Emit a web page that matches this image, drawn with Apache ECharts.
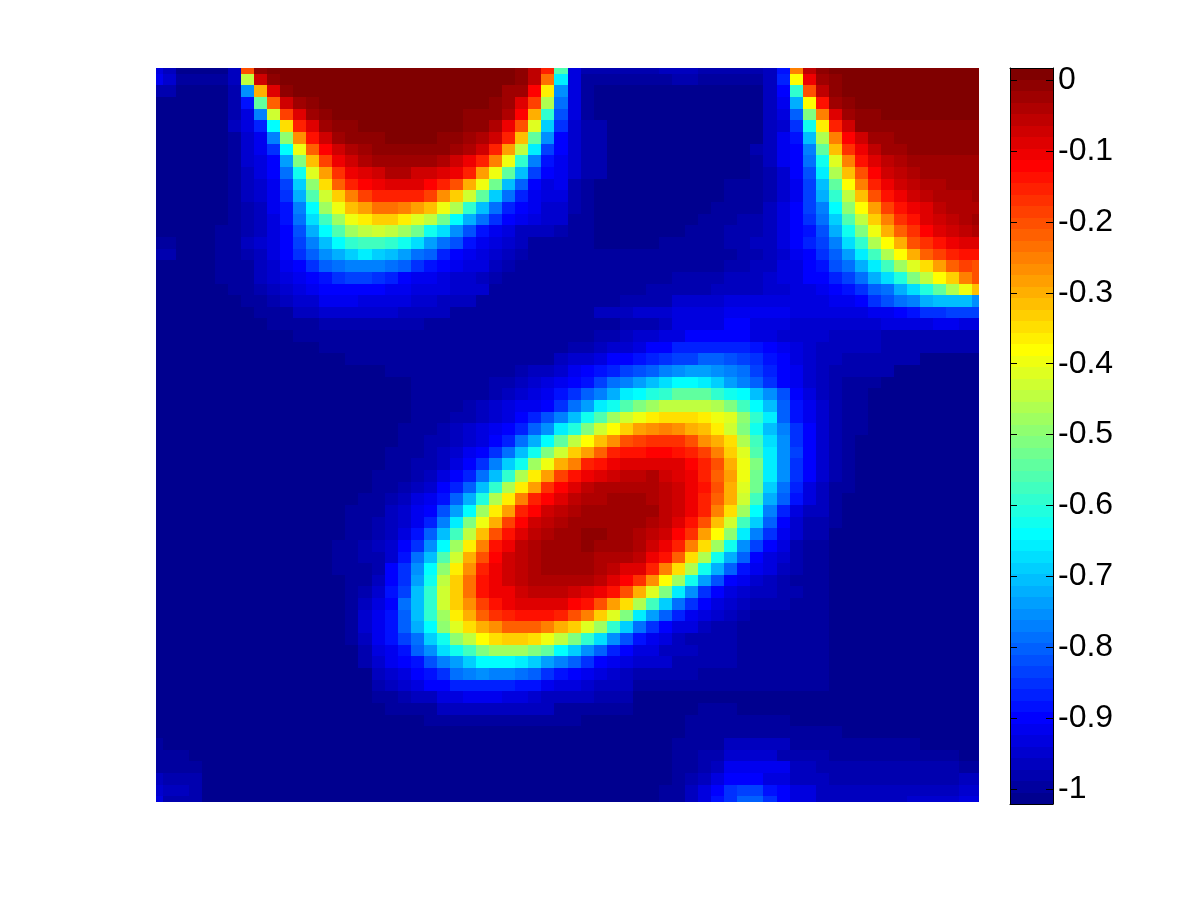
<!DOCTYPE html>
<html>
<head>
<meta charset="utf-8">
<title>heatmap</title>
<script src="https://cdn.jsdelivr.net/npm/echarts@6/dist/echarts.min.js"></script>
<style>
html, body { margin: 0; padding: 0; background: #fff; }
#main { width: 1200px; height: 900px; }
</style>
</head>
<body>
<div id="main"></div>
<script>
// cell values x100, one line per row
var rows = [
[-93,-96,-101,-101,-101,-101,-96,-20,-1,1,1,1,1,1,1,1,1,1,1,1,1,1,1,1,1,1,1,1,-1,-6,-15,-56,-93,-98,-98,-98,-98,-98,-98,-96,-96,-96,-98,-98,-98,-98,-98,-96,-88,-25,-6,-1,1,1,1,1,1,1,1,1,1,1,1,1],
[-92,-95,-100,-100,-100,-100,-96,-45,-7,-1,1,1,1,1,1,1,1,1,1,1,1,1,1,1,1,1,1,1,-1,-6,-23,-66,-93,-100,-100,-100,-100,-100,-100,-100,-98,-98,-100,-100,-100,-100,-100,-96,-87,-38,-11,-3,-1,1,1,1,1,1,1,1,1,1,1,1],
[-98,-98,-101,-101,-101,-101,-98,-75,-30,-9,-1,1,1,1,1,1,1,1,1,1,1,1,1,1,1,1,1,-3,-3,-12,-36,-75,-93,-100,-101,-101,-101,-101,-101,-101,-101,-101,-101,-101,-101,-101,-101,-96,-90,-59,-20,-6,-1,1,1,1,1,1,1,1,1,1,1,1],
[-101,-101,-101,-101,-101,-101,-98,-88,-54,-22,-7,-3,-1,1,1,1,1,1,1,1,1,1,1,1,1,1,-1,-3,-9,-19,-46,-79,-93,-100,-101,-101,-101,-101,-101,-101,-101,-101,-101,-101,-101,-101,-101,-96,-92,-72,-38,-14,-3,-1,1,1,1,1,1,1,1,1,1,1],
[-101,-101,-101,-101,-101,-101,-98,-93,-77,-43,-19,-9,-3,-1,1,1,1,1,1,1,1,1,1,1,-1,-1,-1,-4,-12,-30,-59,-82,-93,-100,-101,-101,-101,-101,-101,-101,-101,-101,-101,-101,-101,-101,-101,-96,-93,-80,-51,-25,-9,-3,-1,-1,1,1,1,1,1,1,1,1],
[-101,-101,-101,-101,-101,-101,-96,-93,-87,-64,-35,-15,-9,-3,-1,-1,1,1,1,1,1,1,1,1,-1,-1,-4,-11,-20,-41,-69,-85,-95,-98,-98,-101,-101,-101,-101,-101,-101,-101,-101,-101,-101,-101,-101,-96,-95,-85,-62,-36,-15,-7,-1,-1,-1,-1,-1,-1,-1,-1,-1,-1],
[-101,-101,-101,-101,-101,-101,-100,-95,-92,-77,-49,-27,-14,-7,-3,-1,-1,-1,1,1,1,1,-1,-1,-3,-4,-7,-15,-32,-54,-75,-90,-95,-98,-98,-101,-101,-101,-101,-101,-101,-101,-101,-101,-101,-101,-101,-96,-92,-88,-71,-46,-25,-12,-7,-3,-3,-1,-1,-1,-1,-1,-1,-1],
[-101,-101,-101,-101,-101,-101,-100,-95,-92,-85,-64,-40,-22,-12,-7,-4,-3,-1,-1,-1,-1,-1,-1,-3,-4,-7,-15,-28,-45,-66,-83,-90,-95,-98,-98,-101,-101,-101,-101,-101,-101,-101,-101,-101,-101,-101,-98,-96,-92,-90,-77,-54,-32,-17,-11,-6,-3,-3,-1,-1,-1,-1,-1,-1],
[-101,-101,-101,-101,-101,-101,-100,-95,-93,-90,-74,-51,-32,-19,-11,-7,-4,-3,-3,-3,-3,-3,-4,-7,-11,-15,-25,-40,-59,-77,-88,-92,-95,-98,-98,-101,-101,-101,-101,-101,-101,-101,-101,-101,-101,-101,-100,-96,-92,-90,-79,-62,-41,-25,-14,-9,-6,-4,-3,-3,-3,-3,-3,-3],
[-101,-101,-101,-101,-101,-101,-100,-96,-93,-90,-79,-62,-41,-28,-17,-11,-9,-7,-4,-4,-7,-7,-9,-11,-15,-28,-40,-54,-71,-83,-90,-92,-95,-98,-98,-101,-101,-101,-101,-101,-101,-101,-101,-101,-101,-101,-100,-98,-95,-90,-82,-66,-46,-32,-20,-12,-7,-6,-4,-3,-3,-3,-3,-3],
[-101,-101,-101,-101,-101,-101,-100,-96,-95,-92,-83,-69,-49,-35,-22,-15,-12,-11,-9,-9,-9,-12,-15,-20,-30,-40,-53,-71,-80,-90,-93,-92,-98,-100,-101,-101,-101,-101,-101,-101,-101,-101,-101,-101,-100,-100,-100,-98,-95,-92,-83,-71,-54,-38,-25,-15,-11,-7,-6,-4,-4,-3,-3,-3],
[-101,-101,-101,-101,-101,-101,-100,-96,-95,-92,-85,-72,-56,-43,-33,-25,-19,-15,-15,-15,-15,-19,-27,-33,-43,-54,-69,-79,-87,-92,-93,-93,-98,-100,-101,-101,-101,-101,-101,-101,-101,-101,-101,-101,-100,-100,-100,-98,-95,-92,-83,-72,-59,-45,-32,-20,-14,-11,-7,-6,-4,-4,-4,-3],
[-101,-101,-101,-101,-101,-101,-100,-98,-96,-92,-88,-77,-64,-48,-40,-32,-28,-23,-23,-25,-28,-32,-40,-46,-59,-71,-79,-87,-90,-92,-95,-95,-98,-100,-101,-101,-101,-101,-101,-101,-101,-101,-101,-100,-100,-100,-100,-96,-93,-90,-83,-77,-64,-49,-38,-28,-19,-14,-11,-9,-6,-4,-4,-4],
[-101,-101,-101,-101,-101,-101,-100,-98,-96,-93,-88,-79,-67,-58,-48,-40,-36,-33,-33,-36,-41,-45,-53,-64,-72,-79,-85,-90,-92,-93,-95,-95,-100,-100,-101,-101,-101,-101,-101,-101,-101,-101,-100,-100,-100,-98,-98,-96,-93,-90,-85,-79,-69,-56,-45,-33,-25,-17,-14,-9,-7,-6,-4,-3],
[-101,-101,-101,-101,-101,-100,-100,-98,-96,-93,-90,-82,-72,-64,-56,-48,-45,-43,-45,-48,-53,-62,-67,-75,-82,-88,-92,-93,-96,-96,-96,-98,-100,-100,-101,-101,-101,-101,-101,-101,-101,-100,-100,-100,-98,-98,-98,-96,-93,-90,-88,-82,-72,-62,-51,-40,-30,-22,-17,-12,-9,-7,-6,-4],
[-100,-100,-101,-101,-101,-100,-100,-96,-95,-93,-90,-83,-77,-71,-64,-59,-58,-58,-59,-62,-67,-74,-79,-82,-88,-92,-93,-95,-96,-100,-100,-100,-100,-100,-101,-101,-101,-101,-101,-100,-100,-100,-100,-100,-98,-98,-96,-96,-93,-90,-87,-83,-77,-67,-59,-46,-38,-30,-20,-17,-14,-11,-9,-9],
[-98,-98,-101,-101,-101,-100,-100,-98,-96,-93,-90,-85,-80,-75,-72,-69,-66,-69,-71,-74,-79,-80,-87,-90,-92,-93,-95,-96,-98,-100,-100,-100,-100,-100,-100,-100,-100,-100,-100,-100,-100,-100,-100,-100,-100,-98,-98,-96,-95,-92,-90,-85,-80,-74,-66,-58,-46,-38,-30,-22,-19,-15,-14,-14],
[-101,-101,-101,-101,-101,-100,-100,-100,-96,-95,-92,-90,-85,-80,-79,-77,-77,-77,-79,-80,-85,-88,-90,-92,-93,-93,-96,-98,-100,-100,-100,-100,-100,-100,-100,-100,-100,-100,-100,-100,-100,-100,-100,-100,-98,-98,-96,-96,-93,-93,-90,-88,-82,-79,-72,-66,-58,-48,-41,-35,-28,-22,-19,-20],
[-101,-101,-101,-101,-101,-100,-100,-100,-96,-95,-93,-92,-90,-88,-85,-83,-83,-85,-87,-90,-92,-92,-93,-95,-95,-96,-98,-100,-100,-100,-100,-100,-100,-100,-100,-100,-100,-100,-100,-100,-98,-98,-98,-98,-96,-96,-96,-95,-93,-93,-90,-90,-87,-83,-79,-72,-67,-61,-51,-45,-38,-33,-25,-20],
[-101,-101,-101,-101,-101,-101,-100,-100,-98,-96,-95,-93,-92,-90,-90,-90,-90,-90,-92,-92,-93,-93,-93,-95,-95,-95,-100,-100,-100,-100,-100,-100,-100,-100,-100,-100,-100,-100,-98,-98,-98,-98,-98,-96,-96,-96,-96,-95,-95,-93,-93,-92,-90,-88,-85,-80,-79,-72,-67,-61,-54,-46,-40,-32],
[-101,-101,-101,-101,-101,-101,-101,-100,-100,-98,-96,-95,-95,-92,-92,-92,-93,-93,-93,-93,-95,-95,-96,-96,-96,-100,-100,-100,-100,-100,-100,-100,-100,-100,-100,-100,-98,-98,-98,-98,-95,-95,-95,-95,-93,-93,-93,-93,-93,-93,-93,-93,-92,-92,-90,-85,-82,-79,-77,-72,-71,-71,-71,-75],
[-101,-101,-101,-101,-101,-101,-101,-101,-100,-100,-100,-96,-96,-95,-95,-95,-95,-95,-95,-96,-96,-96,-96,-100,-100,-100,-100,-100,-100,-100,-100,-100,-100,-100,-96,-96,-96,-95,-95,-95,-93,-93,-93,-93,-92,-92,-92,-92,-92,-93,-93,-93,-93,-93,-93,-92,-92,-90,-88,-85,-85,-83,-83,-83],
[-101,-101,-101,-101,-101,-101,-101,-101,-101,-100,-100,-100,-100,-98,-98,-98,-98,-98,-98,-98,-98,-100,-100,-100,-100,-100,-100,-100,-100,-100,-100,-100,-100,-100,-100,-100,-98,-98,-98,-96,-93,-93,-93,-93,-90,-90,-93,-93,-93,-95,-95,-95,-95,-95,-95,-95,-93,-93,-93,-93,-92,-92,-93,-93],
[-101,-101,-101,-101,-101,-101,-101,-101,-101,-101,-101,-100,-100,-100,-100,-100,-100,-100,-100,-100,-100,-100,-100,-100,-100,-100,-100,-100,-100,-100,-100,-100,-100,-100,-98,-98,-96,-95,-95,-93,-93,-90,-90,-90,-90,-90,-93,-93,-95,-95,-95,-95,-96,-96,-96,-96,-98,-98,-98,-98,-98,-98,-98,-98],
[-101,-101,-101,-101,-101,-101,-101,-101,-101,-101,-101,-101,-101,-100,-100,-100,-100,-100,-100,-100,-100,-100,-100,-100,-100,-100,-100,-100,-100,-100,-100,-100,-98,-98,-96,-95,-95,-93,-90,-90,-87,-87,-87,-87,-87,-87,-88,-90,-92,-93,-95,-96,-96,-96,-96,-96,-98,-98,-98,-98,-98,-98,-98,-98],
[-101,-101,-101,-101,-101,-101,-101,-101,-101,-101,-101,-101,-101,-101,-101,-100,-100,-100,-100,-100,-100,-100,-100,-100,-100,-100,-100,-100,-100,-100,-100,-96,-95,-95,-93,-90,-90,-88,-87,-85,-83,-83,-80,-80,-82,-83,-85,-88,-90,-93,-95,-96,-96,-98,-98,-98,-98,-98,-98,-101,-101,-101,-101,-101],
[-101,-101,-101,-101,-101,-101,-101,-101,-101,-101,-101,-101,-101,-101,-101,-101,-101,-101,-100,-100,-100,-100,-100,-100,-100,-100,-100,-100,-98,-96,-96,-95,-92,-90,-88,-87,-83,-82,-80,-77,-75,-74,-74,-75,-77,-79,-83,-87,-90,-92,-95,-96,-98,-98,-98,-98,-98,-101,-101,-101,-101,-101,-101,-101],
[-101,-101,-101,-101,-101,-101,-101,-101,-101,-101,-101,-101,-101,-101,-101,-101,-101,-101,-101,-101,-100,-100,-100,-100,-100,-100,-98,-98,-96,-95,-93,-92,-90,-88,-83,-79,-77,-74,-71,-67,-64,-64,-66,-69,-74,-77,-80,-85,-90,-92,-95,-96,-98,-100,-100,-100,-101,-101,-101,-101,-101,-101,-101,-101],
[-101,-101,-101,-101,-101,-101,-101,-101,-101,-101,-101,-101,-101,-101,-101,-101,-101,-101,-101,-101,-100,-100,-100,-100,-100,-100,-98,-96,-95,-93,-92,-88,-85,-80,-77,-72,-66,-64,-61,-59,-54,-54,-54,-59,-62,-64,-71,-75,-82,-90,-93,-96,-98,-100,-100,-101,-101,-101,-101,-101,-101,-101,-101,-101],
[-101,-101,-101,-101,-101,-101,-101,-101,-101,-101,-101,-101,-101,-101,-101,-101,-101,-101,-101,-101,-100,-100,-100,-100,-98,-96,-95,-93,-92,-92,-90,-85,-79,-74,-66,-62,-56,-51,-48,-45,-45,-45,-45,-46,-51,-58,-64,-71,-80,-88,-92,-95,-98,-100,-100,-101,-101,-101,-101,-101,-101,-101,-101,-101],
[-101,-101,-101,-101,-101,-101,-101,-101,-101,-101,-101,-101,-101,-101,-101,-101,-101,-101,-101,-101,-100,-100,-100,-98,-98,-96,-95,-93,-90,-87,-82,-77,-71,-62,-56,-48,-43,-40,-36,-35,-35,-35,-36,-40,-41,-49,-59,-66,-80,-88,-92,-95,-98,-100,-100,-101,-101,-101,-101,-101,-101,-101,-101,-101],
[-101,-101,-101,-101,-101,-101,-101,-101,-101,-101,-101,-101,-101,-101,-101,-101,-101,-101,-101,-100,-100,-100,-98,-96,-95,-93,-92,-90,-87,-80,-75,-66,-61,-51,-43,-38,-33,-28,-27,-25,-27,-30,-32,-36,-43,-51,-62,-71,-77,-85,-90,-95,-98,-100,-100,-101,-101,-101,-101,-101,-101,-101,-101,-101],
[-101,-101,-101,-101,-101,-101,-101,-101,-101,-101,-101,-101,-101,-101,-101,-101,-101,-101,-101,-100,-100,-98,-98,-96,-95,-93,-90,-87,-79,-72,-64,-54,-45,-38,-32,-27,-20,-19,-17,-17,-17,-20,-27,-30,-35,-46,-58,-67,-75,-85,-90,-95,-98,-100,-101,-101,-101,-101,-101,-101,-101,-101,-101,-101],
[-101,-101,-101,-101,-101,-101,-101,-101,-101,-101,-101,-101,-101,-101,-101,-101,-101,-101,-100,-100,-100,-98,-96,-95,-92,-90,-85,-79,-71,-62,-51,-43,-33,-28,-22,-15,-14,-14,-12,-12,-14,-15,-19,-25,-33,-41,-56,-66,-75,-83,-90,-95,-98,-100,-101,-101,-101,-101,-101,-101,-101,-101,-101,-101],
[-101,-101,-101,-101,-101,-101,-101,-101,-101,-101,-101,-101,-101,-101,-101,-101,-101,-101,-100,-100,-98,-98,-96,-93,-90,-85,-77,-69,-62,-48,-40,-30,-25,-15,-14,-11,-9,-9,-9,-9,-9,-12,-15,-20,-30,-40,-51,-66,-75,-85,-90,-95,-98,-100,-101,-101,-101,-101,-101,-101,-101,-101,-101,-101],
[-101,-101,-101,-101,-101,-101,-101,-101,-101,-101,-101,-101,-101,-101,-101,-101,-101,-100,-100,-100,-98,-96,-93,-90,-87,-79,-71,-59,-46,-36,-28,-19,-14,-11,-9,-7,-6,-6,-4,-7,-9,-11,-15,-22,-28,-40,-53,-66,-75,-85,-90,-95,-98,-100,-101,-101,-101,-101,-101,-101,-101,-101,-101,-101],
[-101,-101,-101,-101,-101,-101,-101,-101,-101,-101,-101,-101,-101,-101,-101,-101,-101,-100,-100,-98,-96,-95,-90,-87,-80,-71,-59,-46,-36,-28,-17,-12,-9,-6,-4,-4,-4,-4,-4,-6,-7,-11,-14,-20,-30,-41,-53,-69,-79,-87,-93,-96,-100,-100,-101,-101,-101,-101,-101,-101,-101,-101,-101,-101],
[-101,-101,-101,-101,-101,-101,-101,-101,-101,-101,-101,-101,-101,-101,-101,-101,-100,-100,-98,-96,-93,-92,-88,-80,-72,-61,-46,-36,-25,-15,-12,-9,-6,-4,-4,-3,-3,-3,-4,-6,-7,-11,-15,-22,-30,-43,-58,-72,-80,-88,-93,-96,-100,-101,-101,-101,-101,-101,-101,-101,-101,-101,-101,-101],
[-101,-101,-101,-101,-101,-101,-101,-101,-101,-101,-101,-101,-101,-101,-101,-100,-100,-100,-96,-95,-92,-90,-82,-74,-64,-48,-36,-28,-15,-12,-7,-6,-4,-3,-3,-3,-3,-3,-3,-6,-7,-11,-15,-25,-35,-48,-64,-77,-87,-93,-96,-96,-100,-101,-101,-101,-101,-101,-101,-101,-101,-101,-101,-101],
[-101,-101,-101,-101,-101,-101,-101,-101,-101,-101,-101,-101,-101,-101,-101,-100,-100,-98,-96,-95,-92,-87,-77,-66,-51,-40,-30,-19,-12,-7,-6,-4,-3,-3,-3,-3,-3,-3,-4,-6,-9,-14,-20,-32,-43,-58,-69,-80,-90,-95,-98,-98,-100,-101,-101,-101,-101,-101,-101,-101,-101,-101,-101,-101],
[-101,-101,-101,-101,-101,-101,-101,-101,-101,-101,-101,-101,-101,-101,-101,-100,-100,-98,-96,-93,-88,-80,-71,-58,-45,-32,-20,-14,-9,-6,-4,-3,-3,-1,-1,-3,-3,-4,-6,-7,-12,-17,-28,-38,-49,-66,-77,-85,-92,-95,-98,-98,-101,-101,-101,-101,-101,-101,-101,-101,-101,-101,-101,-101],
[-101,-101,-101,-101,-101,-101,-101,-101,-101,-101,-101,-101,-101,-101,-100,-100,-98,-96,-95,-90,-85,-75,-64,-48,-36,-25,-14,-11,-6,-4,-3,-3,-3,-1,-3,-3,-3,-4,-7,-11,-15,-25,-35,-48,-62,-75,-83,-90,-93,-98,-100,-100,-101,-101,-101,-101,-101,-101,-101,-101,-101,-101,-101,-101],
[-101,-101,-101,-101,-101,-101,-101,-101,-101,-101,-101,-101,-101,-101,-100,-100,-98,-98,-95,-88,-79,-71,-56,-43,-30,-20,-12,-7,-6,-4,-3,-3,-3,-3,-4,-4,-4,-6,-11,-14,-22,-35,-46,-62,-72,-80,-90,-93,-95,-98,-100,-100,-101,-101,-101,-101,-101,-101,-101,-101,-101,-101,-101,-101],
[-101,-101,-101,-101,-101,-101,-101,-101,-101,-101,-101,-101,-101,-101,-100,-100,-100,-98,-90,-85,-75,-64,-49,-36,-27,-15,-11,-7,-6,-4,-3,-3,-3,-3,-4,-6,-9,-9,-15,-25,-35,-46,-62,-72,-80,-88,-92,-93,-96,-98,-100,-100,-101,-101,-101,-101,-101,-101,-101,-101,-101,-101,-101,-101],
[-101,-101,-101,-101,-101,-101,-101,-101,-101,-101,-101,-101,-101,-101,-101,-100,-100,-96,-90,-85,-74,-62,-45,-33,-23,-14,-11,-7,-6,-4,-4,-4,-4,-4,-6,-9,-12,-17,-27,-38,-48,-62,-74,-82,-90,-92,-95,-96,-98,-100,-100,-100,-101,-101,-101,-101,-101,-101,-101,-101,-101,-101,-101,-101],
[-101,-101,-101,-101,-101,-101,-101,-101,-101,-101,-101,-101,-101,-101,-101,-100,-98,-95,-88,-83,-71,-59,-43,-33,-23,-14,-11,-11,-7,-6,-6,-6,-7,-9,-11,-14,-20,-30,-41,-51,-66,-75,-85,-90,-93,-95,-96,-96,-98,-98,-100,-100,-101,-101,-101,-101,-101,-101,-101,-101,-101,-101,-101,-101],
[-101,-101,-101,-101,-101,-101,-101,-101,-101,-101,-101,-101,-101,-101,-101,-100,-96,-93,-90,-79,-71,-59,-43,-33,-27,-19,-14,-11,-9,-9,-9,-9,-12,-14,-20,-28,-35,-46,-58,-69,-79,-85,-90,-93,-95,-96,-98,-98,-98,-100,-100,-100,-101,-101,-101,-101,-101,-101,-101,-101,-101,-101,-101,-101],
[-101,-101,-101,-101,-101,-101,-101,-101,-101,-101,-101,-101,-101,-101,-101,-100,-95,-92,-88,-80,-71,-59,-48,-36,-30,-22,-17,-15,-14,-14,-14,-15,-20,-25,-33,-41,-51,-66,-74,-80,-87,-92,-93,-95,-96,-98,-100,-100,-100,-100,-100,-100,-101,-101,-101,-101,-101,-101,-101,-101,-101,-101,-101,-101],
[-101,-101,-101,-101,-101,-101,-101,-101,-101,-101,-101,-101,-101,-101,-101,-100,-95,-92,-88,-80,-72,-64,-49,-41,-35,-30,-27,-22,-22,-22,-25,-30,-33,-41,-48,-59,-69,-79,-85,-90,-93,-93,-96,-98,-98,-100,-100,-100,-100,-100,-100,-100,-101,-101,-101,-101,-101,-101,-101,-101,-101,-101,-101,-101],
[-101,-101,-101,-101,-101,-101,-101,-101,-101,-101,-101,-101,-101,-101,-101,-100,-96,-92,-88,-83,-79,-69,-62,-49,-45,-38,-35,-33,-33,-35,-40,-45,-51,-59,-67,-75,-82,-88,-92,-93,-96,-98,-98,-98,-98,-100,-100,-100,-100,-100,-100,-100,-101,-101,-101,-101,-101,-101,-101,-101,-101,-101,-101,-101],
[-101,-101,-101,-101,-101,-101,-101,-101,-101,-101,-101,-101,-101,-101,-101,-101,-98,-93,-92,-88,-80,-75,-67,-62,-58,-51,-48,-48,-48,-51,-54,-64,-69,-75,-80,-87,-90,-93,-93,-96,-96,-96,-98,-98,-98,-100,-100,-100,-100,-100,-100,-100,-101,-101,-101,-101,-101,-101,-101,-101,-101,-101,-101,-101],
[-101,-101,-101,-101,-101,-101,-101,-101,-101,-101,-101,-101,-101,-101,-101,-101,-98,-95,-92,-90,-88,-82,-77,-74,-69,-64,-64,-64,-66,-69,-74,-77,-80,-85,-90,-92,-93,-95,-95,-95,-98,-98,-98,-98,-98,-100,-100,-100,-100,-100,-100,-100,-101,-101,-101,-101,-101,-101,-101,-101,-101,-101,-101,-101],
[-101,-101,-101,-101,-101,-101,-101,-101,-101,-101,-101,-101,-101,-101,-101,-101,-101,-96,-95,-93,-90,-88,-85,-79,-77,-75,-77,-77,-79,-80,-85,-88,-90,-92,-93,-95,-96,-98,-98,-98,-98,-98,-100,-100,-100,-100,-100,-100,-100,-100,-100,-100,-101,-101,-101,-101,-101,-101,-101,-101,-101,-101,-101,-101],
[-101,-101,-101,-101,-101,-101,-101,-101,-101,-101,-101,-101,-101,-101,-101,-101,-101,-98,-96,-95,-93,-90,-90,-87,-87,-87,-87,-87,-88,-88,-92,-93,-93,-95,-96,-96,-96,-100,-100,-100,-100,-100,-100,-100,-100,-100,-100,-100,-100,-100,-100,-100,-101,-101,-101,-101,-101,-101,-101,-101,-101,-101,-101,-101],
[-101,-101,-101,-101,-101,-101,-101,-101,-101,-101,-101,-101,-101,-101,-101,-101,-101,-100,-100,-98,-96,-96,-93,-93,-92,-92,-92,-93,-93,-95,-96,-96,-96,-96,-98,-98,-98,-101,-101,-101,-101,-101,-101,-101,-101,-101,-101,-101,-101,-101,-101,-101,-101,-101,-101,-101,-101,-101,-101,-101,-101,-101,-101,-101],
[-101,-101,-101,-101,-101,-101,-101,-101,-101,-101,-101,-101,-101,-101,-101,-101,-101,-101,-100,-100,-100,-100,-96,-96,-96,-96,-96,-96,-96,-96,-96,-100,-100,-100,-100,-100,-100,-101,-101,-101,-101,-101,-100,-100,-100,-101,-101,-101,-101,-101,-101,-101,-101,-101,-101,-101,-101,-101,-101,-101,-101,-101,-101,-101],
[-101,-101,-101,-101,-101,-101,-101,-101,-101,-101,-101,-101,-101,-101,-101,-101,-101,-101,-101,-101,-101,-100,-100,-100,-100,-100,-100,-100,-100,-100,-100,-100,-100,-101,-101,-101,-101,-101,-101,-101,-101,-100,-100,-100,-100,-100,-100,-100,-100,-101,-101,-101,-101,-101,-101,-101,-101,-101,-101,-101,-101,-101,-101,-101],
[-101,-101,-101,-101,-101,-101,-101,-101,-101,-101,-101,-101,-101,-101,-101,-101,-101,-101,-101,-101,-101,-101,-101,-101,-101,-101,-101,-101,-101,-101,-101,-101,-101,-101,-101,-101,-101,-101,-101,-101,-101,-100,-100,-100,-100,-100,-100,-100,-100,-100,-100,-100,-100,-101,-101,-101,-101,-101,-101,-101,-101,-101,-101,-101],
[-100,-101,-101,-101,-101,-101,-101,-101,-101,-101,-101,-101,-101,-101,-101,-101,-101,-101,-101,-101,-101,-101,-101,-101,-101,-101,-101,-101,-101,-101,-101,-101,-101,-101,-101,-101,-101,-101,-101,-101,-100,-100,-100,-100,-96,-96,-96,-96,-96,-100,-100,-100,-100,-100,-100,-100,-100,-100,-100,-101,-101,-101,-101,-101],
[-100,-100,-100,-101,-101,-101,-101,-101,-101,-101,-101,-101,-101,-101,-101,-101,-101,-101,-101,-101,-101,-101,-101,-101,-101,-101,-101,-101,-101,-101,-101,-101,-101,-101,-101,-101,-101,-101,-101,-101,-100,-100,-98,-98,-95,-95,-95,-95,-98,-98,-98,-98,-100,-100,-100,-100,-100,-100,-100,-100,-100,-100,-101,-101],
[-100,-100,-100,-100,-101,-101,-101,-101,-101,-101,-101,-101,-101,-101,-101,-101,-101,-101,-101,-101,-101,-101,-101,-101,-101,-101,-101,-101,-101,-101,-101,-101,-101,-101,-101,-101,-101,-101,-101,-101,-100,-100,-98,-96,-92,-92,-92,-92,-92,-96,-96,-98,-98,-98,-98,-98,-98,-98,-98,-98,-98,-98,-100,-100],
[-96,-98,-98,-98,-101,-101,-101,-101,-101,-101,-101,-101,-101,-101,-101,-101,-101,-101,-101,-101,-101,-101,-101,-101,-101,-101,-101,-101,-101,-101,-101,-101,-101,-101,-101,-101,-101,-101,-101,-101,-100,-98,-96,-93,-90,-90,-90,-93,-93,-96,-96,-96,-98,-98,-98,-98,-98,-98,-98,-98,-98,-98,-96,-96],
[-95,-96,-96,-98,-101,-101,-101,-101,-101,-101,-101,-101,-101,-101,-101,-101,-101,-101,-101,-101,-101,-101,-101,-101,-101,-101,-101,-101,-101,-101,-101,-101,-101,-101,-101,-101,-101,-101,-101,-100,-100,-96,-93,-90,-85,-83,-83,-88,-90,-93,-93,-96,-96,-96,-96,-96,-96,-96,-96,-96,-96,-96,-95,-95],
[-93,-98,-98,-98,-101,-101,-101,-101,-101,-101,-101,-101,-101,-101,-101,-101,-101,-101,-101,-101,-101,-101,-101,-101,-101,-101,-101,-101,-101,-101,-101,-101,-101,-101,-101,-101,-101,-101,-101,-100,-100,-96,-93,-88,-85,-80,-80,-85,-90,-93,-93,-96,-96,-96,-96,-96,-96,-96,-95,-95,-95,-95,-93,-93]
];
var colorMin = -1.021;
var colorMax = 0.017;
var levelCount = 64;
var tickValues = [0, -0.1, -0.2, -0.3, -0.4, -0.5, -0.6, -0.7, -0.8, -0.9, -1];

// same ramp as matlab jet(64)
function buildJet(m) {
	var n = Math.ceil(m / 4);
	var u = [];
	var i;
	for (i = 1; i <= n; i++) u.push(i / n);
	for (i = 1; i < n; i++) u.push(1);
	for (i = n; i >= 1; i--) u.push(i / n);
	var g0 = Math.ceil(n / 2) - (m % 4 == 1 ? 1 : 0);
	var list = [];
	for (i = 0; i < m; i++) list.push([0, 0, 0]);
	for (i = 0; i < u.length; i++) {
		var gi = g0 + i, ri = gi + n, bi = gi - n;
		if (ri < m) list[ri][0] = u[i];
		if (gi < m) list[gi][1] = u[i];
		if (bi >= 0) list[bi][2] = u[i];
	}
	return list.map(function (c) {
		return 'rgb(' + Math.round(c[0] * 255) + ',' + Math.round(c[1] * 255) + ',' + Math.round(c[2] * 255) + ')';
	});
}
var jet = buildJet(levelCount);

function colorOf(v) {
	var k = Math.floor((v - colorMin) / (colorMax - colorMin) * levelCount);
	return jet[Math.max(0, Math.min(levelCount - 1, k))];
}

var cellData = [];
rows.forEach(function (row, r) {
	row.forEach(function (v, c) {
		cellData.push([c, r, v / 100]);
	});
});

var barData = [];
for (var i = 0; i < levelCount; i++) {
	barData.push([0.5, colorMin + (i + 0.5) * (colorMax - colorMin) / levelCount]);
}
var barStep = (colorMax - colorMin) / levelCount;

// whole pixel rectangles, otherwise thin seams show between cells
function snap(v) {
	return Math.round(v + 0.000001);
}
function pixelRect(p0, p1, coordSys) {
	var rect = echarts.graphic.clipRectByRect({
		x: Math.min(p0[0], p1[0]),
		y: Math.min(p0[1], p1[1]),
		width: Math.abs(p1[0] - p0[0]),
		height: Math.abs(p1[1] - p0[1])
	}, coordSys);
	if (!rect) return null;
	var x0 = snap(rect.x), y0 = snap(rect.y);
	var x1 = snap(rect.x + rect.width), y1 = snap(rect.y + rect.height);
	return { x: x0, y: y0, width: x1 - x0, height: y1 - y0 };
}

// onZero off, or the axes jump to value 0 inside the colorbar
var blackLine = { show: true, onZero: false, lineStyle: { color: '#000', width: 1 } };

var option = {
	animation: false,
	backgroundColor: '#fff',
	grid: [
		{ left: 156, top: 68, width: 823, height: 734 },
		{ left: 1010, top: 68, width: 43, height: 736 }
	],
	xAxis: [
		{ type: 'value', gridIndex: 0, min: 0, max: 63, show: false },
		{ type: 'value', gridIndex: 1, min: 0, max: 1, position: 'bottom', z: 5, axisLine: blackLine,
			axisTick: { show: false }, axisLabel: { show: false }, splitLine: { show: false } },
		{ type: 'value', gridIndex: 1, min: 0, max: 1, position: 'top', z: 5, axisLine: blackLine,
			axisTick: { show: false }, axisLabel: { show: false }, splitLine: { show: false } }
	],
	yAxis: [
		{ type: 'value', gridIndex: 0, min: 0, max: 63, inverse: true, show: false },
		{
			type: 'value', gridIndex: 1, min: colorMin, max: colorMax, position: 'right', z: 5,
			axisLine: blackLine,
			axisTick: { show: true, inside: true, length: 7, lineStyle: { color: '#000' }, customValues: tickValues },
			axisLabel: {
				show: true, inside: false, margin: 5, color: '#000', fontSize: 32,
				fontFamily: 'Liberation Sans', customValues: tickValues,
				formatter: function (v) { return String(v); }
			},
			splitLine: { show: false }
		},
		{
			type: 'value', gridIndex: 1, min: colorMin, max: colorMax, position: 'left', z: 5,
			axisLine: blackLine,
			axisTick: { show: true, inside: true, length: 7, lineStyle: { color: '#000' }, customValues: tickValues },
			// labels stay on but empty, the ticks follow the same custom values
			axisLabel: { show: true, customValues: tickValues, formatter: function () { return ''; } },
			splitLine: { show: false }
		}
	],
	series: [
		{
			type: 'custom',
			xAxisIndex: 0,
			yAxisIndex: 0,
			data: cellData,
			encode: { x: 0, y: 1 },
			renderItem: function (params, api) {
				var c = api.value(0), r = api.value(1);
				var shape = pixelRect(api.coord([c - 0.5, r - 0.5]), api.coord([c + 0.5, r + 0.5]), params.coordSys);
				if (!shape) return null;
				return { type: 'rect', shape: shape, style: { fill: colorOf(api.value(2)), stroke: null } };
			}
		},
		{
			type: 'custom',
			xAxisIndex: 1,
			yAxisIndex: 1,
			data: barData,
			encode: { x: 0, y: 1 },
			z: 1,
			renderItem: function (params, api) {
				var v = api.value(1);
				var shape = pixelRect(api.coord([0, v - barStep / 2]), api.coord([1, v + barStep / 2]), params.coordSys);
				if (!shape) return null;
				return { type: 'rect', shape: shape, style: { fill: colorOf(v), stroke: null } };
			}
		}
	]
};

var myChart = echarts.init(document.getElementById('main'), null, { renderer: 'canvas' });
myChart.setOption(option);
</script>
</body>
</html>
